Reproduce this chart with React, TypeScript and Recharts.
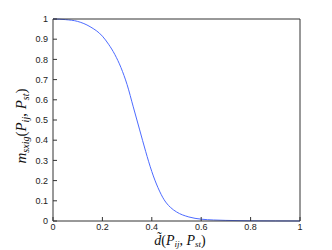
import React from 'react';
import { LineChart, Line, XAxis, YAxis } from 'recharts';

const distances = [0, 0.05, 0.1, 0.15, 0.2, 0.225, 0.25, 0.275, 0.3, 0.325, 0.35, 0.375, 0.4, 0.425, 0.45, 0.475, 0.5, 0.55, 0.6, 0.65, 0.7, 0.8, 0.9, 1.0];
const similarity = [1.0, 0.997, 0.988, 0.962, 0.915, 0.875, 0.825, 0.76, 0.675, 0.565, 0.455, 0.345, 0.245, 0.165, 0.105, 0.068, 0.045, 0.02, 0.009, 0.005, 0.003, 0.001, 0.0004, 0.0001];

const xTicks = [0, 0.2, 0.4, 0.6, 0.8, 1];
const yTicks = [0, 0.1, 0.2, 0.3, 0.4, 0.5, 0.6, 0.7, 0.8, 0.9, 1];

const data = distances.map((d, i) => ({ d, m: similarity[i] }));

const fmt = (v: number) => (v === 0 ? '0' : v === 1 ? '1' : String(Number(v.toFixed(1))));

const axisColor = '#333';
const tickFont = { fontSize: 9, fill: '#222', fontFamily: 'Liberation Sans, Arial, sans-serif' };
const mathFont = 'Liberation Serif, Times New Roman, serif';

const App: React.FC = () => {
  return (
    <div style={{ position: 'absolute', left: 0, top: 0, width: 332, height: 250, background: '#fff' }}>
      <LineChart width={332} height={250} data={data} margin={{ top: 18, right: 31, left: 8, bottom: 9 }}>
        <XAxis
          xAxisId="b"
          dataKey="d"
          type="number"
          domain={[0, 1]}
          ticks={xTicks}
          tickFormatter={fmt}
          height={20}
          tickSize={-4}
          tickMargin={7}
          tick={tickFont}
          stroke={axisColor}
        />
        <XAxis
          xAxisId="t"
          dataKey="d"
          type="number"
          orientation="top"
          domain={[0, 1]}
          ticks={xTicks}
          height={1}
          tickSize={-4}
          tick={false}
          stroke={axisColor}
        />
        <YAxis
          yAxisId="l"
          type="number"
          domain={[0, 1]}
          ticks={yTicks}
          tickFormatter={fmt}
          width={45}
          tickSize={-4}
          tickMargin={9}
          tick={tickFont}
          stroke={axisColor}
        />
        <YAxis
          yAxisId="r"
          type="number"
          orientation="right"
          domain={[0, 1]}
          ticks={yTicks}
          width={1}
          tickSize={-4}
          tick={false}
          stroke={axisColor}
        />
        <Line
          xAxisId="b"
          yAxisId="l"
          type="monotone"
          dataKey="m"
          stroke="#4d6bff"
          strokeWidth={1}
          dot={false}
          isAnimationActive={false}
        />
      </LineChart>
      <svg width={332} height={250} style={{ position: 'absolute', left: 0, top: 0, pointerEvents: 'none' }}>
        <text
          x={0}
          y={0}
          transform="translate(26,126) rotate(-90)"
          textAnchor="middle"
          fontFamily={mathFont}
          fontStyle="italic"
          fontSize={15}
          fill="#111"
        >
          m
          <tspan fontSize={10} dy={3}>sxig</tspan>
          <tspan fontStyle="normal" dy={-3}>(</tspan>
          <tspan>P</tspan>
          <tspan fontSize={10} dy={3}>ij</tspan>
          <tspan fontStyle="normal" dy={-3}>, </tspan>
          <tspan>P</tspan>
          <tspan fontSize={10} dy={3}>st</tspan>
          <tspan fontStyle="normal" dy={-3}>)</tspan>
        </text>
        <text
          x={180}
          y={245}
          textAnchor="middle"
          fontFamily={mathFont}
          fontStyle="italic"
          fontSize={14}
          fill="#111"
        >
          {'d\u0303'}
          <tspan fontStyle="normal">(</tspan>
          <tspan>P</tspan>
          <tspan fontSize={9} dy={2}>ij</tspan>
          <tspan fontStyle="normal" dy={-2}>, </tspan>
          <tspan>P</tspan>
          <tspan fontSize={9} dy={2}>st</tspan>
          <tspan fontStyle="normal" dy={-2}>)</tspan>
        </text>
      </svg>
    </div>
  );
};

export default App;
